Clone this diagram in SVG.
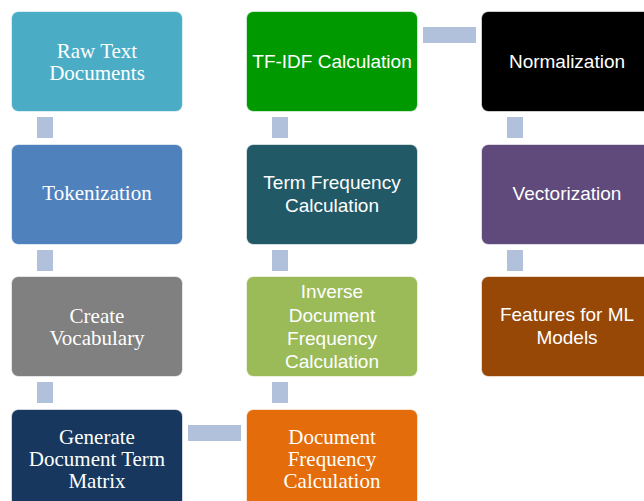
<svg xmlns="http://www.w3.org/2000/svg" width="644" height="501" viewBox="0 0 644 501">
  <style>
    .box { stroke: #ffffff; stroke-opacity: 0.6; stroke-width: 1; }
    .link { fill: #b1c1dc; }
    .serif { font-family: "Liberation Serif", "Times New Roman", serif; font-size: 21px; fill: #ffffff; text-anchor: middle; }
    .sans { font-family: "Liberation Sans", Arial, sans-serif; font-size: 19px; fill: #ffffff; text-anchor: middle; }
  </style>

  <!-- connectors -->
  <g id="connectors">
    <rect class="link" x="37" y="117" width="16" height="21"/>
    <rect class="link" x="37" y="250" width="16" height="21"/>
    <rect class="link" x="37" y="382" width="16" height="21"/>
    <rect class="link" x="188" y="425" width="53" height="16"/>
    <rect class="link" x="272" y="382" width="16" height="21"/>
    <rect class="link" x="272" y="250" width="16" height="21"/>
    <rect class="link" x="272" y="117" width="16" height="21"/>
    <rect class="link" x="423" y="27" width="53" height="16"/>
    <rect class="link" x="507" y="117" width="16" height="21"/>
    <rect class="link" x="507" y="250" width="16" height="21"/>
  </g>

  <!-- column 1 -->
  <g id="raw-text">
    <rect class="box" x="11.5" y="11.5" width="171" height="100" rx="7" fill="#4bacc6"/>
    <text class="serif" x="97" y="58">Raw Text</text>
    <text class="serif" x="97" y="80">Documents</text>
  </g>
  <g id="tokenization">
    <rect class="box" x="11.5" y="144.5" width="171" height="100" rx="7" fill="#4f81bd"/>
    <text class="serif" x="97" y="200">Tokenization</text>
  </g>
  <g id="create-vocabulary">
    <rect class="box" x="11.5" y="276.5" width="171" height="100" rx="7" fill="#808080"/>
    <text class="serif" x="97" y="323">Create</text>
    <text class="serif" x="97" y="345">Vocabulary</text>
  </g>
  <g id="generate-dtm">
    <rect class="box" x="11.5" y="409.5" width="171" height="100" rx="7" fill="#17375e"/>
    <text class="serif" x="97" y="444">Generate</text>
    <text class="serif" x="97" y="466">Document Term</text>
    <text class="serif" x="97" y="488">Matrix</text>
  </g>

  <!-- column 2 -->
  <g id="tf-idf">
    <rect class="box" x="246.5" y="11.5" width="171" height="100" rx="7" fill="#009900"/>
    <text class="sans" x="332" y="68">TF-IDF Calculation</text>
  </g>
  <g id="term-frequency">
    <rect class="box" x="246.5" y="144.5" width="171" height="100" rx="7" fill="#215967"/>
    <text class="sans" x="332" y="189">Term Frequency</text>
    <text class="sans" x="332" y="212">Calculation</text>
  </g>
  <g id="inverse-document-frequency">
    <rect class="box" x="246.5" y="276.5" width="171" height="100" rx="7" fill="#9bbb59"/>
    <text class="sans" x="332" y="298">Inverse</text>
    <text class="sans" x="332" y="322">Document</text>
    <text class="sans" x="332" y="345">Frequency</text>
    <text class="sans" x="332" y="368">Calculation</text>
  </g>
  <g id="document-frequency">
    <rect class="box" x="246.5" y="409.5" width="171" height="100" rx="7" fill="#e46c0a"/>
    <text class="serif" x="332" y="444">Document</text>
    <text class="serif" x="332" y="466">Frequency</text>
    <text class="serif" x="332" y="488">Calculation</text>
  </g>

  <!-- column 3 -->
  <g id="normalization">
    <rect class="box" x="481.5" y="11.5" width="171" height="100" rx="7" fill="#000000"/>
    <text class="sans" x="567" y="68">Normalization</text>
  </g>
  <g id="vectorization">
    <rect class="box" x="481.5" y="144.5" width="171" height="100" rx="7" fill="#604a7b"/>
    <text class="sans" x="567" y="200">Vectorization</text>
  </g>
  <g id="ml-features">
    <rect class="box" x="481.5" y="276.5" width="171" height="100" rx="7" fill="#974706"/>
    <text class="sans" x="567" y="321">Features for ML</text>
    <text class="sans" x="567" y="344">Models</text>
  </g>
</svg>
